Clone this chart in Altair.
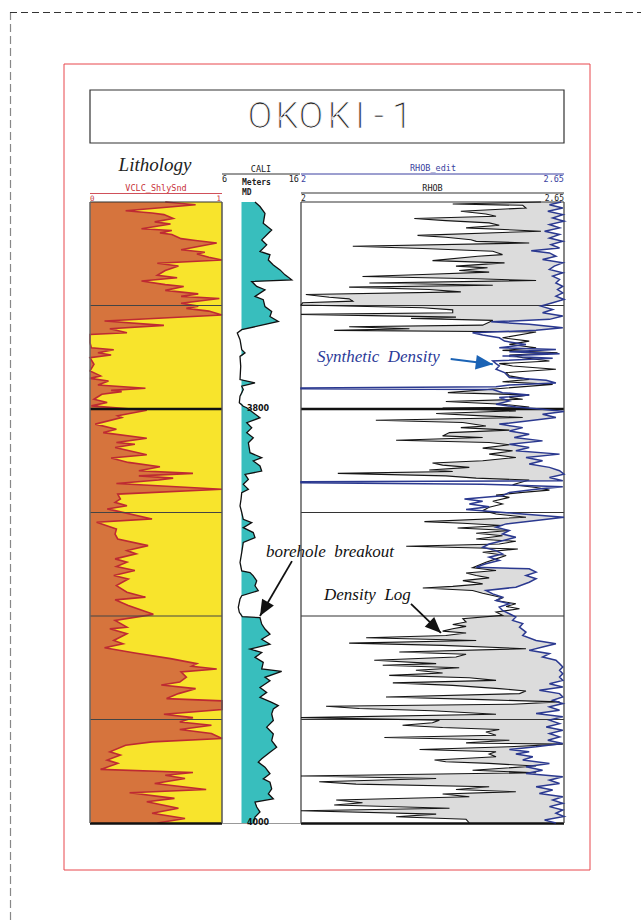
import altair as alt
import pandas as pd

# ---------------- data ----------------
lith_depth = [3700.0, 3701.3, 3704.2, 3705.3, 3706.1, 3708.0, 3709.6, 3710.6, 3712.9, 3713.8,
 3714.9, 3715.7, 3717.7, 3718.6, 3719.8, 3723.1, 3724.3, 3725.1, 3726.7, 3728.0,
 3729.6, 3730.9, 3733.1, 3735.4, 3736.6, 3738.2, 3739.9, 3740.8, 3742.7, 3744.4,
 3745.6, 3746.6, 3748.9, 3750.3, 3751.4, 3752.7, 3754.6, 3757.5, 3759.6, 3761.2,
 3763.2, 3764.0, 3768.0, 3770.4, 3771.4, 3772.8, 3773.9, 3775.2, 3778.4, 3781.6,
 3784.0, 3785.2, 3786.5, 3788.4, 3790.0, 3791.0, 3791.6, 3792.9, 3795.3, 3796.9,
 3798.5, 3800.6, 3803.3, 3804.1, 3807.3, 3809.8, 3811.4, 3814.1, 3816.2, 3817.0,
 3818.6, 3822.1, 3823.7, 3825.8, 3827.9, 3829.8, 3831.1, 3832.3, 3833.4, 3834.3,
 3836.0, 3838.8, 3841.1, 3843.5, 3845.1, 3846.7, 3848.3, 3849.1, 3853.1, 3854.7,
 3858.0, 3860.4, 3862.8, 3866.0, 3868.4, 3870.0, 3872.4, 3874.0, 3876.1, 3878.0,
 3880.4, 3882.1, 3885.3, 3888.5, 3890.9, 3892.2, 3894.9, 3899.2, 3902.1, 3905.4,
 3906.2, 3908.6, 3911.8, 3913.4, 3915.3, 3917.9, 3920.6, 3923.0, 3924.3, 3925.6,
 3927.0, 3929.5, 3931.9, 3933.3, 3935.1, 3937.5, 3939.9, 3941.0, 3945.2, 3947.5,
 3949.1, 3951.2, 3952.8, 3954.8, 3956.8, 3959.2, 3960.8, 3962.4, 3965.6, 3967.2,
 3969.6, 3971.2, 3974.1, 3975.6, 3976.9, 3978.5, 3980.9, 3983.8, 3985.4, 3988.1,
 3989.7, 3992.9, 3995.3, 3997.8, 4000.0]
lith_vclc = [0.57, 0.80, 0.27, 0.47, 0.56, 0.63, 0.49, 0.61, 0.39, 0.62,
 0.53, 0.62, 0.69, 0.80, 0.96, 0.69, 0.87, 0.81, 0.90, 1.00,
 0.51, 0.67, 0.57, 0.51, 0.66, 0.39, 0.57, 0.71, 0.57, 0.82,
 0.69, 0.98, 0.69, 0.82, 0.73, 0.90, 1.00, 0.11, 0.56, 0.15,
 0.28, 0.00, 0.00, 0.01, 0.18, 0.06, 0.16, 0.00, 0.03, 0.00,
 0.08, 0.00, 0.14, 0.06, 0.42, 0.16, 0.24, 0.09, 0.03, 0.13,
 0.01, 0.43, 0.21, 0.24, 0.04, 0.20, 0.10, 0.43, 0.20, 0.34,
 0.19, 0.43, 0.16, 0.29, 0.53, 0.37, 0.78, 0.37, 0.63, 0.52,
 0.20, 1.00, 0.21, 0.23, 0.19, 0.28, 0.13, 0.19, 0.47, 0.05,
 0.20, 0.19, 0.21, 0.44, 0.28, 0.35, 0.19, 0.28, 0.20, 0.34,
 0.18, 0.29, 0.20, 0.28, 0.42, 0.19, 0.29, 0.48, 0.19, 0.28,
 0.15, 0.28, 0.18, 0.25, 0.11, 0.34, 0.61, 0.81, 0.77, 0.96,
 0.69, 0.73, 0.68, 0.54, 0.80, 0.67, 0.58, 1.00, 1.00, 0.56,
 0.78, 0.68, 0.92, 0.68, 0.92, 1.00, 0.47, 0.27, 0.15, 0.23,
 0.13, 0.21, 0.08, 0.78, 0.57, 0.72, 0.49, 0.88, 0.30, 0.64,
 0.43, 0.67, 0.47, 0.72, 0.51]

cali_depth = [3700.0, 3702.2, 3705.5, 3710.3, 3713.5, 3715.1, 3718.3, 3720.7, 3723.9, 3725.5,
 3728.0, 3730.4, 3732.8, 3735.2, 3737.6, 3738.4, 3740.8, 3742.4, 3745.6, 3747.2,
 3750.5, 3752.9, 3755.3, 3757.7, 3761.7, 3763.3, 3766.5, 3771.3, 3772.9, 3774.6,
 3779.4, 3785.8, 3787.4, 3789.0, 3790.6, 3793.8, 3797.0, 3798.7, 3799.4, 3801.8,
 3804.2, 3806.6, 3809.1, 3811.5, 3813.9, 3816.3, 3821.1, 3823.5, 3825.1, 3827.5,
 3830.0, 3831.6, 3834.0, 3836.4, 3838.8, 3840.4, 3843.6, 3846.8, 3850.0, 3853.3,
 3854.9, 3857.3, 3859.7, 3862.1, 3864.5, 3869.3, 3874.1, 3878.2, 3879.0, 3880.6,
 3883.0, 3885.4, 3887.8, 3890.2, 3891.8, 3895.8, 3898.2, 3900.3, 3900.8, 3903.9,
 3906.3, 3908.8, 3911.2, 3913.6, 3916.0, 3917.6, 3920.0, 3922.4, 3925.6, 3926.8,
 3929.6, 3931.3, 3934.5, 3936.9, 3939.3, 3941.7, 3943.3, 3944.9, 3947.3, 3950.5,
 3953.7, 3957.0, 3960.2, 3963.4, 3965.8, 3969.0, 3970.6, 3973.0, 3976.2, 3978.7,
 3980.3, 3983.5, 3985.9, 3988.3, 3989.9, 3992.3, 3994.7, 3997.1, 4000.0]
cali_val = [10.23, 10.87, 11.51, 11.29, 12.37, 11.94, 11.09, 11.73, 10.87, 12.15,
 11.94, 12.58, 13.44, 14.08, 14.94, 9.81, 10.45, 11.51, 10.23, 11.29,
 11.51, 12.37, 12.15, 13.22, 8.53, 7.96, 8.31, 8.53, 8.95, 8.31,
 8.40, 8.31, 10.23, 8.53, 8.73, 8.31, 8.22, 8.73, 9.17, 10.01,
 10.87, 9.17, 9.81, 9.17, 10.01, 9.38, 9.59, 11.09, 10.01, 10.87,
 11.09, 8.95, 9.38, 8.73, 9.38, 8.53, 8.44, 8.31, 8.53, 8.73,
 9.81, 8.73, 10.01, 10.23, 8.73, 8.53, 8.31, 8.53, 9.59, 10.01,
 10.45, 10.23, 10.65, 8.53, 8.31, 8.09, 8.22, 8.60, 10.87, 11.09,
 11.51, 12.15, 11.09, 12.15, 9.59, 11.09, 10.23, 11.29, 11.09, 13.65,
 11.51, 12.15, 10.87, 11.73, 10.87, 12.37, 13.22, 12.58, 12.37, 12.58,
 11.73, 12.58, 12.37, 13.01, 12.15, 11.09, 10.65, 11.51, 12.15, 11.29,
 12.15, 12.37, 11.94, 12.58, 10.23, 10.45, 10.87, 10.23, 10.01]
bit_size = 8.5

rhob_depth = [3700.0, 3701.0, 3701.6, 3702.9, 3704.5, 3705.8, 3706.9, 3708.0, 3709.0, 3710.1,
 3711.2, 3712.5, 3714.1, 3716.1, 3717.0, 3718.2, 3719.0, 3719.8, 3721.4, 3722.5,
 3723.8, 3725.4, 3726.2, 3728.3, 3729.4, 3731.0, 3731.8, 3733.1, 3733.9, 3735.0,
 3736.0, 3737.1, 3737.9, 3739.1, 3740.2, 3741.1, 3742.3, 3743.4, 3744.7, 3746.0,
 3746.8, 3747.9, 3748.7, 3749.8, 3751.1, 3752.1, 3753.5, 3754.3, 3755.6, 3756.2,
 3757.2, 3759.5, 3760.3, 3761.2, 3762.0, 3762.8, 3765.6, 3767.2, 3768.8, 3770.4,
 3771.7, 3772.8, 3773.9, 3775.2, 3776.8, 3778.1, 3779.2, 3780.8, 3782.4, 3784.0,
 3785.7, 3786.8, 3788.1, 3792.1, 3793.2, 3794.5, 3795.3, 3796.4, 3797.7, 3799.0,
 3799.6, 3800.9, 3802.2, 3803.3, 3804.1, 3805.4, 3806.5, 3808.2, 3809.0, 3810.2,
 3811.4, 3813.0, 3813.8, 3815.1, 3816.2, 3817.3, 3818.9, 3820.2, 3821.8, 3823.4,
 3825.0, 3826.1, 3827.1, 3828.2, 3829.5, 3830.2, 3831.1, 3832.3, 3833.4, 3834.3,
 3836.6, 3837.9, 3839.2, 3840.3, 3841.6, 3842.7, 3844.6, 3845.9, 3847.5, 3849.1,
 3850.7, 3852.3, 3854.4, 3855.2, 3856.3, 3857.5, 3858.7, 3860.0, 3861.2, 3862.8,
 3863.9, 3865.2, 3866.3, 3867.6, 3869.2, 3870.8, 3872.4, 3874.0, 3876.7, 3878.0,
 3879.2, 3880.4, 3881.6, 3882.9, 3884.5, 3885.7, 3886.5, 3887.7, 3889.0, 3890.1,
 3891.2, 3892.5, 3894.1, 3895.4, 3896.5, 3898.1, 3899.7, 3901.3, 3902.9, 3904.1,
 3905.0, 3906.2, 3907.3, 3908.2, 3909.4, 3910.5, 3911.8, 3913.1, 3914.2, 3915.8,
 3917.4, 3918.5, 3919.8, 3921.4, 3923.0, 3923.8, 3925.0, 3926.2, 3927.5, 3928.7,
 3929.8, 3931.1, 3932.3, 3933.5, 3935.1, 3936.2, 3937.5, 3939.1, 3940.4, 3941.5,
 3942.6, 3943.6, 3944.7, 3945.8, 3947.5, 3949.1, 3950.3, 3951.6, 3952.8, 3953.9,
 3954.8, 3956.0, 3957.6, 3958.7, 3960.0, 3961.3, 3961.9, 3963.2, 3964.5, 3965.6,
 3966.7, 3968.0, 3969.6, 3970.4, 3971.2, 3972.5, 3974.5, 3975.7, 3977.3, 3978.5,
 3980.1, 3981.2, 3982.5, 3983.8, 3984.9, 3986.0, 3987.3, 3988.9, 3990.2, 3991.3,
 3992.9, 3994.1, 3995.7, 3997.0, 3998.2, 4000.0]
rhob_val = [2.593, 2.375, 2.548, 2.556, 2.395, 2.457, 2.482, 2.280, 2.358, 2.465,
 2.490, 2.408, 2.593, 2.288, 2.358, 2.420, 2.433, 2.564, 2.128, 2.301,
 2.474, 2.498, 2.437, 2.325, 2.503, 2.383, 2.461, 2.391, 2.465, 2.301,
 2.152, 2.433, 2.581, 2.169, 2.474, 2.119, 2.317, 2.395, 2.012, 2.070,
 2.119, 2.128, 2.004, 2.000, 2.301, 2.375, 2.375, 2.000, 2.383, 2.272,
 2.474, 2.449, 2.119, 2.268, 2.082, 2.581, 2.498, 2.564, 2.515, 2.581,
 2.498, 2.634, 2.515, 2.548, 2.614, 2.490, 2.523, 2.630, 2.507, 2.515,
 2.564, 2.498, 2.622, 2.363, 2.564, 2.515, 2.548, 2.358, 2.498, 2.564,
 2.350, 2.531, 2.334, 2.449, 2.548, 2.185, 2.400, 2.457, 2.395, 2.515,
 2.367, 2.350, 2.449, 2.235, 2.465, 2.515, 2.449, 2.523, 2.465, 2.531,
 2.449, 2.325, 2.350, 2.416, 2.317, 2.375, 2.091, 2.358, 2.433, 2.564,
 2.523, 2.581, 2.614, 2.548, 2.482, 2.515, 2.474, 2.498, 2.465, 2.449,
 2.482, 2.556, 2.305, 2.400, 2.498, 2.387, 2.515, 2.433, 2.498, 2.433,
 2.531, 2.490, 2.260, 2.536, 2.449, 2.507, 2.482, 2.457, 2.424, 2.482,
 2.408, 2.433, 2.465, 2.400, 2.449, 2.375, 2.301, 2.424, 2.449, 2.474,
 2.498, 2.482, 2.531, 2.507, 2.540, 2.482, 2.498, 2.400, 2.408, 2.375,
 2.408, 2.375, 2.350, 2.408, 2.358, 2.161, 2.433, 2.119, 2.350, 2.556,
 2.243, 2.408, 2.383, 2.181, 2.334, 2.202, 2.391, 2.284, 2.350, 2.218,
 2.416, 2.482, 2.227, 2.375, 2.490, 2.556, 2.540, 2.210, 2.449, 2.639,
 2.523, 2.062, 2.144, 2.325, 2.482, 2.000, 2.342, 2.325, 2.251, 2.350,
 2.490, 2.457, 2.482, 2.206, 2.515, 2.408, 2.647, 2.515, 2.293, 2.482,
 2.465, 2.482, 2.330, 2.358, 2.465, 2.581, 2.424, 2.581, 2.000, 2.334,
 2.045, 2.136, 2.465, 2.383, 2.531, 2.350, 2.416, 2.087, 2.152, 2.082,
 2.367, 2.000, 2.334, 2.235, 2.408, 2.416]

syn_depth = [3700.0, 3701.3, 3702.9, 3704.5, 3706.1, 3707.7, 3709.3, 3710.9, 3712.5, 3714.1,
 3715.7, 3717.4, 3719.0, 3720.6, 3722.2, 3723.5, 3724.6, 3726.2, 3727.8, 3729.4,
 3731.0, 3732.6, 3734.2, 3735.8, 3737.4, 3739.1, 3740.7, 3742.3, 3743.9, 3745.5,
 3747.1, 3748.7, 3750.3, 3751.9, 3753.5, 3755.1, 3756.7, 3757.9, 3759.1, 3760.7,
 3762.0, 3763.2, 3764.3, 3765.6, 3767.2, 3768.8, 3770.4, 3771.2, 3772.3, 3773.3,
 3774.4, 3775.5, 3776.8, 3778.1, 3779.2, 3780.8, 3782.4, 3784.8, 3786.1, 3787.4,
 3788.4, 3789.3, 3789.8, 3790.2, 3790.6, 3792.1, 3793.2, 3794.5, 3796.1, 3797.7,
 3799.0, 3800.1, 3801.2, 3802.5, 3804.1, 3805.7, 3807.3, 3809.0, 3810.6, 3812.2,
 3813.8, 3815.4, 3817.0, 3818.6, 3820.2, 3821.8, 3823.4, 3825.0, 3826.6, 3828.2,
 3829.8, 3831.5, 3833.1, 3834.7, 3835.2, 3835.6, 3836.3, 3837.6, 3838.8, 3840.3,
 3841.9, 3843.5, 3844.6, 3845.9, 3847.2, 3848.6, 3850.7, 3852.3, 3853.9, 3855.5,
 3857.1, 3858.7, 3860.4, 3862.0, 3863.6, 3865.2, 3866.8, 3868.4, 3870.0, 3871.6,
 3873.2, 3874.8, 3876.4, 3877.2, 3878.8, 3880.4, 3882.0, 3883.7, 3886.1, 3887.7,
 3889.3, 3890.9, 3892.5, 3894.1, 3895.7, 3897.3, 3898.9, 3900.5, 3902.1, 3903.7,
 3905.4, 3907.8, 3909.4, 3911.8, 3913.4, 3915.0, 3916.6, 3918.2, 3919.8, 3921.4,
 3923.0, 3924.6, 3926.2, 3927.9, 3929.5, 3931.1, 3932.7, 3934.3, 3935.9, 3937.5,
 3939.1, 3940.7, 3942.3, 3943.9, 3945.5, 3947.1, 3948.7, 3950.3, 3952.0, 3953.6,
 3955.2, 3956.8, 3958.4, 3960.0, 3961.6, 3963.2, 3964.5, 3965.6, 3966.7, 3968.0,
 3969.6, 3971.2, 3972.8, 3974.5, 3976.1, 3977.7, 3979.3, 3980.9, 3982.5, 3984.1,
 3985.7, 3987.3, 3988.9, 3990.5, 3992.1, 3993.7, 3995.3, 3996.9, 3998.6, 4000.0]
syn_val = [2.643, 2.614, 2.647, 2.610, 2.647, 2.622, 2.650, 2.614, 2.639, 2.602,
 2.639, 2.614, 2.647, 2.618, 2.639, 2.569, 2.614, 2.630, 2.597, 2.647,
 2.626, 2.614, 2.647, 2.622, 2.639, 2.630, 2.647, 2.634, 2.647, 2.630,
 2.650, 2.622, 2.593, 2.622, 2.597, 2.647, 2.614, 2.470, 2.564, 2.647,
 2.581, 2.424, 2.449, 2.490, 2.503, 2.556, 2.490, 2.630, 2.515, 2.639,
 2.498, 2.622, 2.474, 2.482, 2.490, 2.482, 2.503, 2.515, 2.606, 2.630,
 2.515, 2.482, 2.000, 2.000, 2.474, 2.498, 2.564, 2.490, 2.515, 2.482,
 2.531, 2.597, 2.650, 2.597, 2.630, 2.564, 2.490, 2.548, 2.515, 2.564,
 2.527, 2.597, 2.515, 2.564, 2.531, 2.639, 2.556, 2.597, 2.564, 2.614,
 2.639, 2.650, 2.614, 2.647, 2.000, 2.000, 2.449, 2.647, 2.581, 2.515,
 2.498, 2.404, 2.449, 2.416, 2.465, 2.408, 2.548, 2.650, 2.581, 2.507,
 2.482, 2.515, 2.498, 2.531, 2.498, 2.465, 2.449, 2.482, 2.498, 2.465,
 2.490, 2.457, 2.433, 2.564, 2.581, 2.556, 2.581, 2.564, 2.531, 2.457,
 2.474, 2.498, 2.482, 2.515, 2.490, 2.498, 2.515, 2.531, 2.523, 2.548,
 2.540, 2.556, 2.548, 2.581, 2.630, 2.597, 2.564, 2.614, 2.597, 2.630,
 2.639, 2.647, 2.639, 2.647, 2.639, 2.647, 2.614, 2.647, 2.589, 2.639,
 2.647, 2.622, 2.647, 2.614, 2.639, 2.581, 2.647, 2.614, 2.639, 2.606,
 2.647, 2.614, 2.639, 2.610, 2.647, 2.581, 2.515, 2.564, 2.531, 2.573,
 2.548, 2.614, 2.556, 2.597, 2.556, 2.647, 2.614, 2.639, 2.581, 2.622,
 2.589, 2.647, 2.622, 2.647, 2.614, 2.647, 2.630, 2.650, 2.602, 2.630]

grid_minor = [3750, 3850, 3900, 3950]
grid_major = [3800]
depth_ticks = [3800, 4000]
depth_tick_labels = ["3800", "4000"]

title_chars = ["O", "K", "O", "K", "I", "-", "1"]

# annotations (track units)
syn_note = {"text": "Synthetic\u00a0\u00a0Density", "rhob": 2.0395, "depth": 3774.7}
syn_arrow = {"r1": 2.370, "d1": 3775.8, "r2": 2.474, "d2": 3778.4}
log_note = {"text": "Density\u00a0\u00a0Log", "rhob": 2.0568, "depth": 3889.9}
log_arrow = {"r1": 2.2718, "d1": 3894.1, "r2": 2.346, "d2": 3908.2}
bko_note = {"text": "borehole\u00a0\u00a0breakout", "cali": 11.64, "depth": 3869.2}
bko_arrow = {"c1": 14.97, "d1": 3873.5, "c2": 10.87, "d2": 3900.0}

# ---------------- styling ----------------
SERIF = "Liberation Serif"
MONO = "DejaVu Sans Mono"
SANS = "DejaVu Sans"
ORANGE = "#D6743D"
YELLOW = "#F8E42C"
RED = "#BE2A32"
TEAL = "#38BEBD"
GRAYF = "#DCDCDC"
BLUE = "#2B3990"
ARROWBLUE = "#1B63B5"
HEAD = "M0,0L-2,-0.85L-2,0.85Z"

ysc = alt.Scale(domain=[3700, 4000], range=[202, 823], nice=False, zero=False)
xs_lith = alt.Scale(domain=[0, 1], range=[90, 222], nice=False, zero=False)
xs_cali = alt.Scale(domain=[6, 16], range=[222, 300], nice=False, zero=False)
xs_rhob = alt.Scale(domain=[2, 2.65], range=[301, 564], nice=False, zero=False)

one = pd.DataFrame({"k": [0]})


def Yd(field="depth"):
    return alt.Y(f"{field}:Q", scale=ysc, axis=None)


def hline(x1, x2, y, color, w=1.0, dash=None):
    kw = dict(color=color, strokeWidth=w)
    if dash:
        kw["strokeDash"] = dash
    return alt.Chart(one).mark_rule(**kw).encode(x=alt.value(x1), x2=alt.value(x2), y=alt.value(y))


def vline(x, y1, y2, color, w=1.0, dash=None):
    kw = dict(color=color, strokeWidth=w)
    if dash:
        kw["strokeDash"] = dash
    return alt.Chart(one).mark_rule(**kw).encode(x=alt.value(x), y=alt.value(y1), y2=alt.value(y2))


def box(x1, y1, x2, y2, stroke, w=1.0):
    return alt.Chart(one).mark_rect(filled=False, stroke=stroke, strokeWidth=w).encode(
        x=alt.value(x1), x2=alt.value(x2), y=alt.value(y1), y2=alt.value(y2))


def label(txt, x, y, size=8, color="#222", align="left", font=MONO, weight="normal",
          style="normal", baseline="alphabetic"):
    return alt.Chart(one).mark_text(text=txt, fontSize=size, color=color, align=align,
                                    baseline=baseline, font=font, fontWeight=weight,
                                    fontStyle=style).encode(x=alt.value(x), y=alt.value(y))


def depth_rules(depths, x1, x2, color, w):
    return alt.Chart(pd.DataFrame({"depth": depths})).mark_rule(color=color, strokeWidth=w).encode(
        x=alt.value(x1), x2=alt.value(x2), y=Yd())


# title, one glyph at a time (thin, widely spaced lettering)
title_x = [260, 287, 311, 339, 360, 379, 402]
title_layers = [
    alt.Chart(one).mark_text(text=ch, fontSize=36, font="Roboto", fontWeight=300,
                             color="#222", stroke="white", strokeWidth=0.7,
                             align="center", baseline="middle").encode(
        x=alt.value(x), y=alt.value(117))
    for ch, x in zip(title_chars, title_x)
]

# ---------------- page decoration & headers ----------------
deco = alt.layer(
    vline(10.5, 12, 920, "#888", 1.2, [8, 4]),
    hline(10, 641, 12.5, "#333", 1.0, [7, 4]),
    box(64, 64, 590, 870, "#E8474C", 1.0),
    box(90, 90, 564, 143, "#333", 1.2),
    *title_layers,
    label("Lithology", 155, 171, size=19, font=SERIF, style="italic", align="center"),
    label("CALI", 261, 172, size=8.5, align="center"),
    hline(222, 300, 174, "#333", 1.0),
    label("RHOB_edit", 433, 171, size=8.5, color="#3A3FA0", align="center"),
    hline(301, 564, 174, "#3A3FA0", 1.0),
    label("6", 222, 182, size=8.5),
    label("16", 299, 182, size=8.5, align="right"),
    label("2", 301, 182, size=8.5, color="#3A3FA0"),
    label("2.65", 564, 182, size=8.5, color="#3A3FA0", align="right"),
    label("Meters", 242, 185, size=8, weight="bold"),
    label("MD", 242, 195, size=8, weight="bold"),
    label("VCLC_ShlySnd", 156, 191, size=8.5, color="#C8323A", align="center"),
    hline(90, 222, 193.5, "#D0505A", 1.0),
    label("0", 90, 200.5, size=7.5, color="#C8323A"),
    label("1", 221, 200.5, size=7.5, color="#C8323A", align="right"),
    label("RHOB", 432.5, 191, size=8.5, align="center"),
    hline(301, 564, 193, "#777", 1.5),
    label("2", 301, 200.5, size=8),
    label("2.65", 564, 200.5, size=8, align="right"),
)

# ---------------- lithology track ----------------
ldf = pd.DataFrame({"depth": lith_depth, "vclc": lith_vclc})
lx = alt.X("vclc:Q", scale=xs_lith, axis=None)
lith = alt.layer(
    alt.Chart(one).mark_rect(color=YELLOW).encode(
        x=alt.value(90), x2=alt.value(222), y=alt.value(202), y2=alt.value(823)),
    alt.Chart(ldf).mark_area(orient="horizontal", color=ORANGE).encode(
        x=lx, x2=alt.datum(0), y=Yd()),
    alt.Chart(ldf).mark_line(color=RED, strokeWidth=1.6).encode(x=lx, y=Yd(), order="depth:Q"),
    depth_rules(grid_minor, 90, 222, "#444", 1.2),
    depth_rules(grid_major, 90, 222, "#111", 2.5),
    hline(90, 222, 202, "#333", 1.2),
    hline(90, 222, 823.5, "#111", 2.5),
    vline(90, 202, 823, "#666", 1.5),
    vline(222, 202, 823, "#555", 1.5),
)

# ---------------- caliper / depth track ----------------
cdf = pd.DataFrame({"depth": cali_depth, "cali": cali_val})
cx = alt.X("cali:Q", scale=xs_cali, axis=None)
ddf = pd.DataFrame({"depth": depth_ticks, "lab": depth_tick_labels})
bko_df = pd.DataFrame([bko_note])
bko_arr = pd.DataFrame([bko_arrow])
cali = alt.layer(
    alt.Chart(cdf).transform_calculate(cf=f"max(datum.cali, {bit_size})").mark_area(
        orient="horizontal", color=TEAL).encode(
        x=alt.X("cf:Q", scale=xs_cali, axis=None), x2=alt.datum(bit_size), y=Yd()),
    alt.Chart(cdf).mark_line(color="#111", strokeWidth=1.3).encode(x=cx, y=Yd(), order="depth:Q"),
    hline(222, 301, 823.5, "#999", 1.0),
    alt.Chart(ddf).mark_text(font=SANS, fontWeight="bold", fontSize=8, color="#111",
                             align="center", baseline="middle").encode(
        x=alt.value(258), y=Yd(), text="lab:N"),
    alt.Chart(bko_df).mark_text(font=SERIF, fontStyle="italic", fontSize=17, color="#111",
                                align="left", baseline="middle").encode(
        x=alt.X("cali:Q", scale=xs_cali, axis=None), y=Yd(), text="text:N"),
    alt.Chart(bko_arr).mark_rule(color="#111", strokeWidth=1.8).encode(
        x=alt.X("c1:Q", scale=xs_cali, axis=None), x2="c2:Q",
        y=Yd("d1"), y2="d2:Q"),
    alt.Chart(bko_arr).mark_point(shape=HEAD, filled=True, size=256, opacity=1, color="#111",
                                  angle=120).encode(
        x=alt.X("c2:Q", scale=xs_cali, axis=None), y=Yd("d2")),
)

# ---------------- density track ----------------
rdf = pd.DataFrame({"depth": rhob_depth, "rhob": rhob_val})
sdf = pd.DataFrame({"depth": syn_depth, "syn": syn_val})
rx = alt.X("rhob:Q", scale=xs_rhob, axis=None)
sx = alt.X("syn:Q", scale=xs_rhob, axis=None)
syn_df = pd.DataFrame([syn_note])
syn_arr = pd.DataFrame([syn_arrow])
log_df = pd.DataFrame([log_note])
log_arr = pd.DataFrame([log_arrow])
rhob = alt.layer(
    alt.Chart(rdf).mark_area(orient="horizontal", color=GRAYF).encode(
        x=rx, x2=alt.datum(2.65), y=Yd()),
    alt.Chart(sdf).mark_area(orient="horizontal", color="white").encode(
        x=sx, x2=alt.datum(2.65), y=Yd()),
    depth_rules(grid_minor, 301, 564, "#333", 1.2),
    depth_rules(grid_major, 301, 564, "#111", 2.5),
    hline(301, 564, 202, "#333", 1.2),
    hline(301, 564, 823.5, "#111", 2.5),
    vline(301, 202, 823, "#444", 1.3),
    vline(564, 202, 823, "#444", 1.3),
    alt.Chart(rdf).mark_line(color="#151515", strokeWidth=1.1).encode(x=rx, y=Yd(), order="depth:Q"),
    alt.Chart(sdf).mark_line(color=BLUE, strokeWidth=1.5).encode(x=sx, y=Yd(), order="depth:Q"),
    alt.Chart(syn_df).mark_text(font=SERIF, fontStyle="italic", fontSize=17, color="#2B3A98",
                                align="left", baseline="middle").encode(
        x=alt.X("rhob:Q", scale=xs_rhob, axis=None), y=Yd(), text="text:N"),
    alt.Chart(syn_arr).mark_rule(color=ARROWBLUE, strokeWidth=2).encode(
        x=alt.X("r1:Q", scale=xs_rhob, axis=None), x2="r2:Q", y=Yd("d1"), y2="d2:Q"),
    alt.Chart(syn_arr).mark_point(shape=HEAD, filled=True, size=289, opacity=1, color=ARROWBLUE,
                                  angle=7).encode(
        x=alt.X("r2:Q", scale=xs_rhob, axis=None), y=Yd("d2")),
    alt.Chart(log_df).mark_text(font=SERIF, fontStyle="italic", fontSize=17, color="#111",
                                align="left", baseline="middle").encode(
        x=alt.X("rhob:Q", scale=xs_rhob, axis=None), y=Yd(), text="text:N"),
    alt.Chart(log_arr).mark_rule(color="#111", strokeWidth=1.8).encode(
        x=alt.X("r1:Q", scale=xs_rhob, axis=None), x2="r2:Q", y=Yd("d1"), y2="d2:Q"),
    alt.Chart(log_arr).mark_point(shape=HEAD, filled=True, size=256, opacity=1, color="#111",
                                  angle=44).encode(
        x=alt.X("r2:Q", scale=xs_rhob, axis=None), y=Yd("d2")),
)

chart = alt.layer(deco, lith, cali, rhob).resolve_scale(x="independent").properties(
    width=641, height=920, padding=0, background="white",
    autosize=alt.AutoSizeParams(type="none"),
).configure_view(stroke=None)

chart.save("out.html", embed_options={"renderer": "svg", "actions": False})
